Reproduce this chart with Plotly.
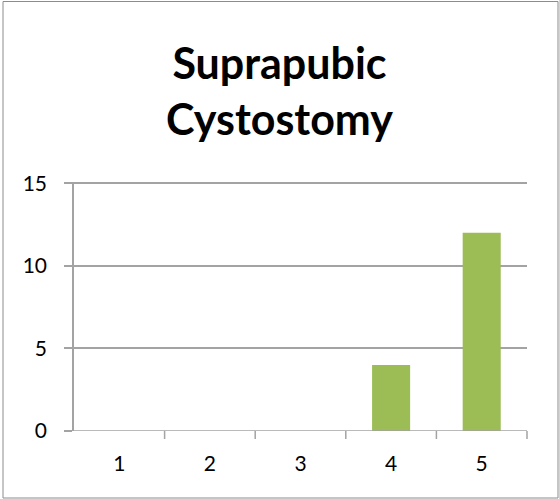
import plotly.graph_objects as go

categories = ["1", "2", "3", "4", "5"]
values = [0, 0, 0, 4, 12]
title_text = "Suprapubic<br>Cystostomy"

W, H = 559, 499
L, R, T, B = 74, 32, 182, 68
pw, ph = W - L - R, H - T - B
GRID = "#a3a3a3"

fig = go.Figure()
fig.add_trace(go.Bar(
    x=categories, y=values,
    width=0.42,
    marker=dict(color="#9cbd56", line=dict(width=0)),
))

fig.update_layout(
    width=W, height=H,
    margin=dict(l=L, r=R, t=T, b=B),
    paper_bgcolor="white", plot_bgcolor="white",
    showlegend=False,
    title=dict(text="<b>" + title_text + "</b>", x=0.5, xanchor="center",
               y=1 - 79 / H, yanchor="middle",
               font=dict(family="Lato, Open Sans, sans-serif", size=43, color="black")),
    font=dict(family="Lato, Open Sans, sans-serif", size=21, color="black"),
    xaxis=dict(type="category", showgrid=False, showline=False, zeroline=False,
               ticks="", tickfont=dict(size=21), ticklabelstandoff=18),
    yaxis=dict(range=[0, 15.07], tickvals=[0, 5, 10, 15], showgrid=True,
               gridcolor=GRID, gridwidth=1.5, zeroline=False,
               showline=True, linecolor=GRID, linewidth=1.5,
               ticks="outside", ticklen=8, tickcolor=GRID, tickwidth=1.5,
               tickfont=dict(size=21), ticklabelstandoff=13),
    shapes=[
        # x-axis baseline
        dict(type="line", xref="paper", yref="y", x0=0, x1=1, y0=0, y1=0,
             line=dict(color=GRID, width=1.5)),
        # outer border
        dict(type="rect", xref="paper", yref="paper",
             x0=-(L - 3) / pw, x1=1 + (R - 1) / pw,
             y0=-(B - 1) / ph, y1=1 + (T - 1.5) / ph,
             line=dict(color="#8c8c8c", width=1)),
    ] + [
        dict(type="line", xref="paper", yref="paper",
             x0=i / 5, x1=i / 5, y0=0, y1=-8 / ph,
             line=dict(color=GRID, width=1.5))
        for i in range(1, 6)
    ],
)

fig.write_html("out.html", config={"displayModeBar": False},
               post_script="document.body.style.margin='0';document.body.style.padding='0';")
